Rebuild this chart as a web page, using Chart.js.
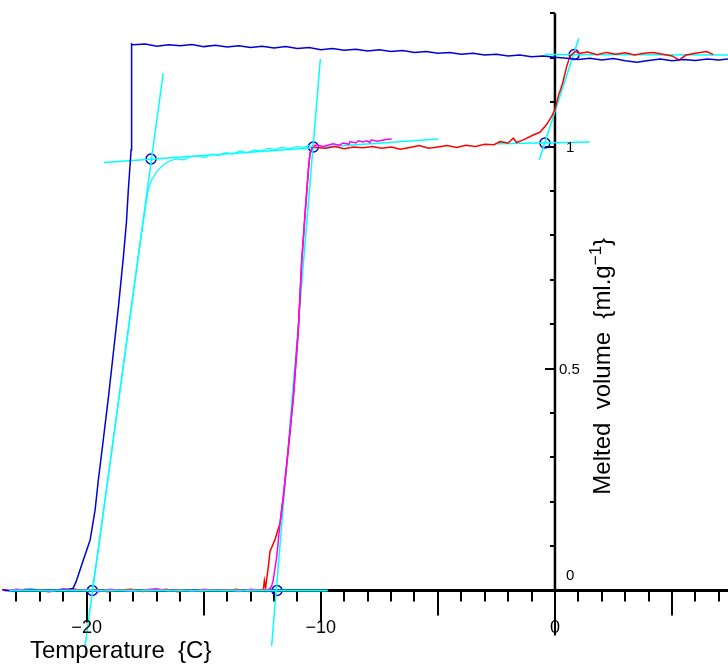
<!DOCTYPE html>
<html>
<head>
<meta charset="utf-8">
<script src="https://cdn.jsdelivr.net/npm/chart.js@4.4.1/dist/chart.umd.min.js"></script>
<style>
  html, body { margin: 0; padding: 0; background: #fff; }
  canvas { display: block; }
</style>
</head>
<body>
<canvas id="meltChart" width="728" height="666"></canvas>
<script>
'use strict'

// cooling run (blue)
const blueT = [-23.6, -23.0, -22.4, -21.8, -21.2, -20.8, -20.58, -20.45, -20.28, -20.05, -19.85, -19.64, -19.5, -19.29,
  -19.07, -18.86, -18.64, -18.43, -18.3, -18.22, -18.1, -18.08,
  -18.0, -17.5, -17.0, -16.5, -16.0, -15.5, -15.0, -14.5, -14.0, -13.5, -13.0, -12.5, -12.0, -11.5, -11.0, -10.5,
  -10.0, -9.5, -9.0, -8.5, -8.0, -7.5, -7.0, -6.5, -6.0, -5.5, -5.0, -4.5, -4.0, -3.5, -3.0, -2.5, -2.0, -1.5,
  -1.0, -0.5, 0.0, 0.5, 1.0, 1.5, 2.0, 2.5, 3.0, 3.5, 4.0, 4.5, 5.0, 5.5, 6.0, 6.5, 7.0, 7.4]
const blueV = [0.002, -0.002, 0.003, 0.0, 0.002, 0.001, 0.005, 0.02, 0.047, 0.083, 0.114, 0.181, 0.249, 0.339,
  0.435, 0.535, 0.64, 0.752, 0.83, 0.902, 0.993, 1.231,
  1.229, 1.231, 1.226, 1.229, 1.227, 1.23, 1.225, 1.228, 1.224, 1.227, 1.223, 1.226, 1.222, 1.225, 1.221, 1.223,
  1.218, 1.221, 1.217, 1.219, 1.215, 1.218, 1.214, 1.216, 1.212, 1.214, 1.21, 1.212, 1.208, 1.21, 1.206, 1.208, 1.204, 1.206,
  1.202, 1.204, 1.201, 1.199, 1.196, 1.199, 1.195, 1.198, 1.193, 1.19, 1.194, 1.197, 1.193, 1.196, 1.194, 1.197, 1.195, 1.197]

// warming run (red)
const redT = [-23.6, -23.1, -22.6, -22.1, -21.6, -21.1, -20.6, -20.1, -19.6, -19.1, -18.6, -18.1, -17.6, -17.1,
  -16.6, -16.1, -15.6, -15.1, -14.6, -14.1, -13.6, -13.1, -12.6,
  -12.45, -12.41, -12.36, -12.3, -12.24, -12.17, -11.96, -11.74, -11.6, -11.39, -11.17, -10.96, -10.82, -10.67,
  -10.53, -10.46, -10.35,
  -10.2, -9.8, -9.4, -9.0, -8.6, -8.2, -7.8, -7.4, -7.0, -6.6, -6.2, -5.8, -5.4, -5.0, -4.6, -4.2, -3.8, -3.4,
  -3.0, -2.6, -2.35, -2.0, -1.78, -1.64, -1.35, -0.93, -0.64, -0.35, -0.14, 0.0, 0.14, 0.33, 0.5, 0.64, 0.85,
  1.07, 1.4, 1.8, 2.2, 2.6, 3.0, 3.4, 3.8, 4.2, 4.6, 5.0, 5.3, 5.6, 6.0, 6.48, 6.76]
const redV = [0.002, -0.002, 0.003, 0.0, -0.003, 0.002, 0.004, -0.001, 0.002, -0.003, 0.001, 0.003, -0.002, 0.0,
  0.003, -0.003, 0.001, -0.002, 0.002, -0.001, 0.003, -0.002, 0.001,
  0.003, 0.022, 0.005, 0.03, 0.054, 0.088, 0.114, 0.152, 0.212, 0.317, 0.437, 0.587, 0.737, 0.85,
  0.947, 0.985, 1.0,
  0.998, 0.996, 1.0, 0.995, 0.999, 0.997, 1.0, 0.996, 0.999, 0.994, 0.998, 1.002, 0.996, 0.999, 1.002, 0.998, 1.003, 1.0,
  1.005, 1.004, 1.011, 1.008, 1.019, 1.009, 1.015, 1.026, 1.032, 1.05, 1.068, 1.083, 1.113, 1.143, 1.18, 1.203, 1.214,
  1.21, 1.213, 1.207, 1.212, 1.208, 1.211, 1.206, 1.21, 1.212, 1.208, 1.204, 1.195, 1.206, 1.21, 1.214, 1.207]

// second warming run (magenta)
const magT = [-23.5, -23.0, -22.5, -22.0, -21.5, -21.0, -20.5, -20.0, -19.5, -19.0, -18.5, -18.0, -17.5, -17.0,
  -16.5, -16.0, -15.5, -15.0, -14.5, -14.0, -13.5, -13.0, -12.5, -12.3,
  -12.17, -12.1, -12.03, -11.88, -11.74, -11.6, -11.39, -11.17, -10.96, -10.82, -10.67, -10.53, -10.46, -10.35,
  -10.18, -9.9, -9.48, -9.2, -9.05, -8.8, -8.75, -8.5, -8.4, -8.2, -8.05, -7.9, -7.84, -7.6, -7.49, -7.2, -6.97]
const magV = [-0.001, 0.003, 0.0, 0.002, -0.002, 0.004, 0.0, 0.002, -0.003, 0.003, 0.0, -0.002, 0.002, 0.004,
  -0.001, 0.002, -0.002, 0.003, 0.0, 0.002, -0.002, 0.003, 0.0, 0.002,
  0.004, 0.01, 0.024, 0.077, 0.152, 0.212, 0.317, 0.437, 0.587, 0.737, 0.85, 0.947, 0.985, 1.0,
  1.004, 1.0, 1.006, 1.003, 1.008, 1.005, 1.011, 1.008, 1.013, 1.01, 1.013, 1.009, 1.015, 1.012, 1.013, 1.016, 1.017]

// cyan run
const cyanT = [-20.0, -19.76, -19.5, -19.0, -18.5, -18.0, -17.7, -17.46, -17.37, -17.22, -17.0, -16.72, -16.44, -16.15,
  -15.85, -15.55, -15.25, -14.95, -14.65, -14.35, -14.05, -13.75, -13.45, -13.15, -12.85, -12.55, -12.25,
  -11.95, -11.65, -11.35, -11.05, -10.75, -10.5, -10.3]
const cyanV = [0.0, 0.002, 0.093, 0.286, 0.479, 0.672, 0.788, 0.873, 0.902, 0.925, 0.944, 0.959, 0.968, 0.972,
  0.97, 0.977, 0.979, 0.975, 0.983, 0.98, 0.986, 0.983, 0.99, 0.986, 0.992, 0.99, 0.996,
  0.993, 0.998, 0.995, 1.0, 0.998, 1.002, 1.0]

// fitted straight lines [T, v]
const fitBase = [[-23.3, 0], [-9.7, 0]]
const fitRiseCool = [[-20.07, -0.126], [-16.73, 1.165]]
const fitPlateauLow = [[-19.26, 0.964], [-4.98, 1.017]]
const fitRiseWarm = [[-12.1, -0.125], [-10.02, 1.197]]
const fitPlateauMid = [[-2.5, 1.006], [1.49, 1.01]]
const fitRiseMelt = [[-0.67, 0.97], [1.02, 1.244]]
const fitPlateauTop = [[-0.43, 1.207], [7.39, 1.206]]

// onset / end points
const onsetT = [-19.76, -17.25, -10.32, -11.87, -0.43, 0.82]
const onsetV = [0, 0.972, 0.999, 0, 1.008, 1.207]

// ticks
const xTickValues = [-20, -10, 0]
const xTickLabels = ['\u221220', '\u221210', '0']
const yTickValues = [0, 0.5, 1]
const yTickLabels = ['0', '0.5', '1']

const FONT = "'Liberation Sans', Arial, sans-serif"
const BLUE = 'rgb(0, 0, 215)'
const CYAN = '#00ffff'

const pts = (ts, vs) => ts.map((t, i) => ({ x: t, y: vs[i] }))
const seg = (p) => p.map(([t, v]) => ({ x: t, y: v }))

const lineSet = (data, color, width) => ({
  data: data,
  showLine: true,
  borderColor: color,
  backgroundColor: color,
  borderWidth: width,
  pointRadius: 0,
  tension: 0,
  fill: false
})

const crossAxes = {
  id: 'crossAxes',
  beforeDatasetsDraw (chart) {
    const { ctx, scales: { x, y } } = chart
    const x0 = x.getPixelForValue(0)
    const y0 = y.getPixelForValue(0)
    ctx.save()
    ctx.strokeStyle = '#000'
    ctx.lineCap = 'butt'

    // temperature axis
    ctx.lineWidth = 3
    ctx.beginPath()
    ctx.moveTo(x.getPixelForValue(-23.2), y0)
    ctx.lineTo(x.right, y0)
    ctx.stroke()
    ctx.lineWidth = 2
    for (let t = -23; t <= 7; t++) {
      let len = 11
      if (t === 0) len = 45
      else if (t % 10 === 0) len = 32
      else if (t % 5 === 0) len = 25
      const px = Math.round(x.getPixelForValue(t))
      ctx.beginPath()
      ctx.moveTo(px, y0)
      ctx.lineTo(px, y0 + len)
      ctx.stroke()
    }

    // volume axis
    ctx.lineWidth = 2.5
    ctx.beginPath()
    ctx.moveTo(x0, y.getPixelForValue(1.3))
    ctx.lineTo(x0, y0)
    ctx.stroke()
    ctx.lineWidth = 2
    for (let i = 1; i <= 13; i++) {
      const py = Math.round(y.getPixelForValue(i / 10))
      const len = i % 5 === 0 ? 10 : 5
      ctx.beginPath()
      ctx.moveTo(x0, py)
      ctx.lineTo(x0 - len, py)
      ctx.stroke()
    }
    ctx.restore()
  },
  afterDatasetsDraw (chart) {
    const { ctx, scales: { x, y } } = chart
    const x0 = x.getPixelForValue(0)
    const y0 = y.getPixelForValue(0)
    ctx.save()
    ctx.fillStyle = '#000'

    ctx.font = '18px ' + FONT
    ctx.textAlign = 'center'
    ctx.textBaseline = 'alphabetic'
    xTickValues.forEach((t, i) => {
      ctx.fillText(xTickLabels[i], x.getPixelForValue(t), y0 + 42)
    })

    ctx.font = '15px ' + FONT
    ctx.textAlign = 'left'
    yTickValues.forEach((v, i) => {
      const py = y.getPixelForValue(v)
      const dx = yTickLabels[i].length > 1 ? 4 : 11
      const dy = v === 0 ? -11 : 5
      ctx.fillText(yTickLabels[i], x0 + dx, py + dy)
    })

    // axis titles
    ctx.font = '24px ' + FONT
    ctx.fillText('Temperature  {C}', 30, y0 + 67)

    ctx.translate(x0 + 55, y.getPixelForValue(0.505))
    ctx.rotate(-Math.PI / 2)
    const main = 'Melted  volume  {ml.g'
    const sup = '\u22121'
    const tail = '}'
    ctx.font = '24px ' + FONT
    const wMain = ctx.measureText(main).width
    const wTail = ctx.measureText(tail).width
    ctx.font = '17px ' + FONT
    const wSup = ctx.measureText(sup).width
    let px = -(wMain + wSup + wTail) / 2
    ctx.font = '24px ' + FONT
    ctx.fillText(main, px, 0)
    px += wMain
    ctx.font = '17px ' + FONT
    ctx.fillText(sup, px, -9)
    px += wSup
    ctx.font = '24px ' + FONT
    ctx.fillText(tail, px, 0)
    ctx.restore()
  }
}

const ctx = document.getElementById('meltChart').getContext('2d')
const chart = new Chart(ctx, {
  type: 'scatter',
  data: {
    datasets: [
      lineSet(seg(fitBase), CYAN, 2),
      lineSet(pts(blueT, blueV), BLUE, 1.5),
      lineSet(pts(cyanT, cyanV), CYAN, 1.2),
      lineSet(pts(magT, magV), '#ff00ff', 1.5),
      lineSet(pts(redT, redV), '#ff0000', 1.5),
      lineSet(seg(fitRiseCool), CYAN, 1.5),
      lineSet(seg(fitPlateauLow), CYAN, 1.5),
      lineSet(seg(fitRiseWarm), CYAN, 1.5),
      lineSet(seg(fitPlateauMid), CYAN, 1.5),
      lineSet(seg(fitRiseMelt), CYAN, 1.5),
      lineSet(seg(fitPlateauTop), CYAN, 1.5),
      {
        data: pts(onsetT, onsetV),
        showLine: false,
        pointStyle: 'circle',
        pointRadius: 5,
        pointHoverRadius: 5,
        borderColor: BLUE,
        backgroundColor: 'rgba(0, 0, 0, 0)',
        borderWidth: 1.5
      }
    ]
  },
  options: {
    responsive: false,
    animation: false,
    devicePixelRatio: 1,
    events: [],
    layout: { padding: 0, autoPadding: false },
    plugins: {
      legend: { display: false },
      tooltip: { enabled: false }
    },
    scales: {
      x: { type: 'linear', min: -23.7, max: 7.39, display: false },
      y: { type: 'linear', min: -0.17, max: 1.33, display: false }
    }
  },
  plugins: [crossAxes]
})
</script>
</body>
</html>
